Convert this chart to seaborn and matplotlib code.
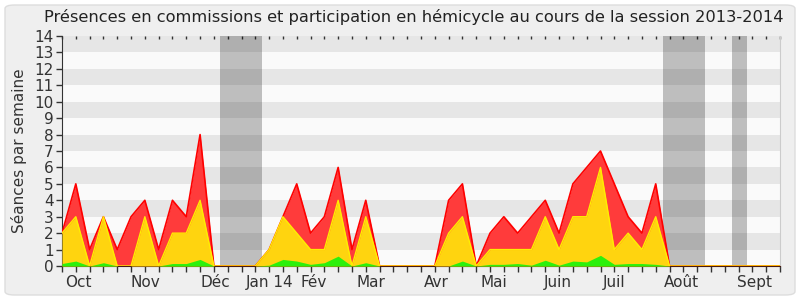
import matplotlib
matplotlib.use("Agg")
import matplotlib.pyplot as plt
from matplotlib.patches import FancyBboxPatch
from matplotlib.transforms import blended_transform_factory
import seaborn as sns
import pandas as pd
import numpy as np

# ---- data (weekly, session 2013-2014) ----
weeks = list(range(53))
commissions_total = [2, 5, 1, 3, 1, 3, 4, 1, 4, 3, 8, 0, 0, 0, 0, 1, 3, 5, 2, 3, 6, 1, 4,
                     0, 0, 0, 0, 0, 4, 5, 0, 2, 3, 2, 3, 4, 2, 5, 6, 7, 5, 3, 2, 5,
                     0, 0, 0, 0, 0, 0, 0, 0, 0]
hemicycle = [2, 3, 0, 3, 0, 0, 3, 0, 2, 2, 4, 0, 0, 0, 0, 1, 3, 2, 1, 1, 4, 0, 3,
             0, 0, 0, 0, 0, 2, 3, 0, 1, 1, 1, 1, 3, 1, 3, 3, 6, 1, 2, 1, 3,
             0, 0, 0, 0, 0, 0, 0, 0, 0]
interventions = [0.15, 0.3, 0, 0.2, 0, 0, 0, 0, 0.15, 0.15, 0.4, 0, 0, 0, 0, 0.05, 0.4, 0.3,
                 0.1, 0.2, 0.6, 0, 0.2, 0, 0, 0, 0, 0, 0, 0.3, 0, 0.1, 0.1, 0.15, 0.05,
                 0.35, 0.05, 0.3, 0.25, 0.65, 0.1, 0.15, 0.15, 0.1,
                 0, 0, 0, 0, 0, 0, 0, 0, 0]
holidays = [(11.47, 14.51), (43.5, 46.55), (48.5, 49.6)]
month_labels = ["Oct", "Nov", "Déc", "Jan 14", "Fév", "Mar", "Avr", "Mai", "Juin", "Juil", "Août", "Sept"]
month_pos = [0.24, 4.95, 10.0, 13.3, 17.3, 21.3, 26.2, 30.3, 34.9, 39.2, 43.6, 48.9]

df = pd.DataFrame({"week": weeks, "red": commissions_total,
                   "yellow": hemicycle, "green": interventions})

sns.set_style("white")
plt.rcParams["font.family"] = ["DejaVu Sans"]

fig = plt.figure(figsize=(8, 3), dpi=100, facecolor="white")
bg = FancyBboxPatch((5 / 800, 5 / 300), 790 / 800, 290 / 300,
                    boxstyle="round,pad=0,rounding_size=0.012",
                    transform=fig.transFigure, facecolor="#efefef",
                    edgecolor="#dddddd", linewidth=1, zorder=-10)
fig.patches.append(bg)

ax = fig.add_axes([62 / 800, 1 - 266 / 300, 718 / 800, 230 / 300])
ax.set_facecolor("#fafafa")
for i in range(1, 14, 2):
    ax.axhspan(i, i + 1, color="#e6e6e6", lw=0, zorder=0)
for a, b in holidays:
    ax.axvspan(a, b, color="black", alpha=0.24, lw=0, zorder=1)

ax.fill_between(df["week"], 0, df["red"], color="#ff3b3b", lw=0, zorder=2)
sns.lineplot(data=df, x="week", y="red", color="#ff0000", lw=1.2, ax=ax, zorder=3)
ax.fill_between(df["week"], 0, df["yellow"], color="#ffd40f", lw=0, zorder=4)
sns.lineplot(data=df, x="week", y="yellow", color="#ffee00", lw=1.0, ax=ax, zorder=5)
ax.fill_between(df["week"], 0, df["green"], color="#2cf00c", lw=0, zorder=6)

ax.set_xlim(0, 52)
ax.set_ylim(0, 14)
ax.set_xlabel("")
ax.set_ylabel("Séances par semaine", fontsize=11, color="#333333", labelpad=5)
ax.set_yticks(range(15))
ax.set_yticklabels([str(i) for i in range(15)], fontsize=11, color="#333333")
ax.set_xticks(weeks)
ax.set_xticklabels([])
ax.tick_params(axis="x", which="both", bottom=True, top=True, direction="out",
               length=4, width=1, color="#333333")
ax.tick_params(axis="y", left=True, direction="out", length=4, width=1,
               color="#333333", pad=2)
# top dotted ticks
ax.tick_params(axis="x", top=True, labeltop=False)
for t in ax.xaxis.get_major_ticks():
    t.tick2line.set_marker(matplotlib.markers.TICKDOWN)
    t.tick2line.set_markersize(2)
    t.tick2line.set_markeredgewidth(1)
    t.tick2line.set_color("#555555")
    t.tick2line.set_zorder(10)

ax.spines["top"].set_visible(False)
ax.spines["right"].set_color("#cccccc")
ax.spines["left"].set_color("#333333")
ax.spines["bottom"].set_color("#4a1a10")

trans = blended_transform_factory(ax.transData, ax.transAxes)
for lab, pos in zip(month_labels, month_pos):
    ax.text(pos, -0.04, lab, transform=trans, ha="left", va="top",
            fontsize=11, color="#333333")

fig.text(0.517, 0.943, "Présences en commissions et participation en hémicycle au cours de la session 2013-2014",
         ha="center", va="center", fontsize=11.7, color="#222222")

fig.savefig("out.png", dpi=100, facecolor="white")
